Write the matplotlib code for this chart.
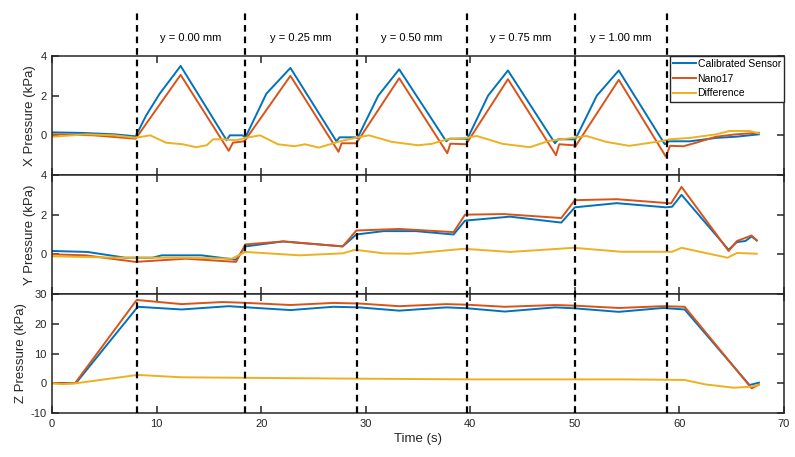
import matplotlib.pyplot as plt
import numpy as np

plt.rcParams['font.family'] = ['Liberation Sans', 'DejaVu Sans']
plt.rcParams['axes.unicode_minus'] = False

# time (s) / pressure (kPa) pairs
xcal_t = [0, 3, 6, 8.0, 9.0, 10.3, 12.3, 16.7, 17.0, 18.2, 18.5, 20.5, 22.8, 27.2, 27.5, 29.0,
          29.2, 31.2, 33.2, 37.7, 38.0, 39.5, 39.7, 41.7, 43.6, 48.1, 48.4, 49.9, 50.0, 52.1,
          54.2, 58.6, 59.0, 61.0, 63.5, 65.4, 67.6]
xcal_p = [0.15, 0.12, 0.05, -0.05, 1.0, 2.1, 3.5, -0.25, 0.0, 0.0, -0.1, 2.1, 3.4, -0.3, -0.1, -0.1,
          -0.15, 2.0, 3.33, -0.3, -0.17, -0.17, -0.2, 2.0, 3.27, -0.4, -0.2, -0.2, -0.25, 2.0,
          3.27, -0.45, -0.3, -0.3, -0.13, -0.07, 0.05]
xnano_t = [0, 4, 8.0, 12.3, 16.9, 17.3, 18.4, 22.8, 27.4, 27.7, 29.1, 33.2, 37.8, 38.1, 39.6,
           43.6, 48.2, 48.5, 49.9, 50.0, 54.2, 58.7, 59.1, 60.4, 61.6, 63.5, 65.4, 67.6]
xnano_p = [0.05, 0.0, -0.17, 3.05, -0.78, -0.37, -0.3, 3.0, -0.83, -0.4, -0.4, 2.88, -0.9, -0.42, -0.45,
           2.83, -1.0, -0.45, -0.5, -0.6, 2.8, -1.07, -0.53, -0.55, -0.37, -0.07, 0.05, 0.13]
xdiff_t = [0, 3.3, 6, 8.0, 9.4, 10.9, 12.5, 13.8, 14.8, 15.4, 16.4, 17.6, 18.5, 19.9, 21.6, 23.2,
           24.2, 25.5, 27.7, 29.0, 30.3, 32.5, 35.0, 36.3, 37.8, 39.7, 40.6, 43.1, 45.7, 47.5,
           49.8, 51.1, 53.0, 55.2, 56.5, 58.4, 59.1, 61.0, 63.5, 64.8, 66.7, 67.6]
xdiff_p = [-0.07, 0.05, 0.0, -0.12, 0.0, -0.37, -0.45, -0.6, -0.5, -0.2, -0.2, -0.25, -0.13, 0.0, -0.45, -0.55,
           -0.45, -0.62, -0.28, -0.13, 0.0, -0.33, -0.5, -0.43, -0.2, -0.13, -0.03, -0.43, -0.6, -0.28,
           -0.13, -0.03, -0.33, -0.53, -0.43, -0.28, -0.2, -0.13, 0.05, 0.22, 0.22, 0.1]

ycal_t = [0, 3.4, 7.0, 9.6, 10.5, 14.3, 17.6, 18.5, 22.1, 27.8, 29.1, 31.7, 34.8, 38.4, 39.5,
          43.8, 48.7, 50.0, 54.0, 58.7, 59.3, 60.2, 64.7, 65.5, 66.3, 66.9, 67.4]
ycal_p = [0.17, 0.12, -0.17, -0.17, -0.05, -0.05, -0.27, 0.4, 0.65, 0.4, 1.0, 1.17, 1.17, 1.0, 1.7,
          1.9, 1.6, 2.37, 2.58, 2.37, 2.4, 3.0, 0.23, 0.62, 0.67, 0.9, 0.7]
ynano_t = [0, 3.2, 8.0, 12.8, 17.6, 18.5, 22.1, 27.8, 29.1, 33.2, 38.4, 39.5, 43.2, 48.7, 50.0,
           54.0, 59.2, 60.2, 64.7, 65.5, 66.9, 67.4]
ynano_p = [0.0, -0.05, -0.38, -0.22, -0.38, 0.5, 0.65, 0.4, 1.2, 1.28, 1.12, 2.0, 2.03, 1.83, 2.73,
           2.78, 2.57, 3.4, 0.17, 0.67, 0.95, 0.7]
ydiff_t = [0, 6.4, 12.8, 17.2, 18.5, 23.7, 27.8, 29.0, 31.7, 34.2, 39.4, 43.8, 49.9, 54.4, 59.3,
           60.2, 64.6, 65.5, 67.4]
ydiff_p = [-0.1, -0.17, -0.17, -0.22, 0.12, -0.05, 0.05, 0.23, 0.05, 0.03, 0.28, 0.12, 0.33, 0.13, 0.13,
           0.33, -0.17, 0.07, 0.03]

zcal_t = [0, 2.3, 8.2, 12.4, 16.9, 18.7, 22.8, 26.9, 29.4, 33.2, 37.7, 39.7, 43.3, 48.1, 49.9,
          54.2, 58.4, 60.5, 66.7, 67.6]
zcal_p = [0.1, 0.1, 25.7, 24.8, 25.9, 25.5, 24.6, 25.7, 25.5, 24.4, 25.5, 25.2, 24.1, 25.5, 25.2,
          24.0, 25.3, 24.8, -0.6, 0.2]
znano_t = [0, 2.2, 8.1, 12.4, 16.3, 18.7, 22.8, 26.9, 29.4, 33.2, 37.7, 39.7, 43.3, 48.1, 49.9,
           54.2, 58.4, 60.5, 66.9, 67.6]
znano_p = [0.0, 0.0, 28.0, 26.6, 27.3, 27.0, 26.3, 27.0, 26.8, 25.9, 26.6, 26.4, 25.7, 26.3, 26.1,
           25.3, 25.9, 25.7, -1.7, -0.5]
zdiff_t = [0, 1.0, 2.3, 8.2, 12.4, 26.9, 40, 55, 60.5, 62.5, 65.2, 66.7, 67.6]
zdiff_p = [0.0, -0.3, 0.0, 2.8, 2.0, 1.6, 1.3, 1.3, 1.1, -0.4, -1.5, -1.2, -0.6]

dash_t = [8.1, 18.5, 29.15, 39.65, 50.0, 58.8]
dash_labels = ['y = 0.00 mm', 'y = 0.25 mm', 'y = 0.50 mm', 'y = 0.75 mm', 'y = 1.00 mm']

c_cal, c_nano, c_diff = '#0072BD', '#D95319', '#EDB120'

fig = plt.figure(figsize=(7.95, 4.57), dpi=100)


def pos(top_px, bot_px):
    return [52 / 795, 1 - bot_px / 457, 732 / 795, (bot_px - top_px) / 457]


ax1 = fig.add_axes(pos(56, 175))
ax2 = fig.add_axes(pos(175, 294))
ax3 = fig.add_axes(pos(294, 413))

panels = [
    (ax1, xcal_t, xcal_p, xnano_t, xnano_p, xdiff_t, xdiff_p, 'X Pressure (kPa)', (-2, 4), [0, 2, 4], -0.022),
    (ax2, ycal_t, ycal_p, ynano_t, ynano_p, ydiff_t, ydiff_p, 'Y Pressure (kPa)', (-2, 4), [0, 2, 4], -0.022),
    (ax3, zcal_t, zcal_p, znano_t, znano_p, zdiff_t, zdiff_p, 'Z Pressure (kPa)', (-10, 30), [-10, 0, 10, 20, 30], -0.034),
]

for ax, ct, cp, nt, npp, dt, dp, lab, lim, ticks, lx in panels:
    ax.plot(ct, cp, color=c_cal, lw=1.4, label='Calibrated Sensor')
    ax.plot(nt, npp, color=c_nano, lw=1.4, label='Nano17')
    ax.plot(dt, dp, color=c_diff, lw=1.4, label='Difference')
    ax.set_xlim(0, 70)
    ax.set_ylim(*lim)
    ax.set_yticks(ticks)
    ax.set_xticks(np.arange(0, 71, 10))
    ax.set_ylabel(lab, fontsize=9.5, color='#262626')
    ax.yaxis.set_label_coords(lx, 0.5)
    ax.tick_params(direction='in', length=5, width=1.1, top=True, right=True,
                   labelsize=8, colors='#262626', pad=4)
    for s in ax.spines.values():
        s.set_linewidth(1.1)
        s.set_color('#262626')

ax1.tick_params(labelbottom=False)
ax2.tick_params(labelbottom=False)
ax3.set_xlabel('Time (s)', fontsize=9.5, color='#262626', labelpad=3)

leg = ax1.legend(loc='upper right', borderaxespad=0, fontsize=7.5, fancybox=False,
                 edgecolor='#262626', framealpha=1, handlelength=2.2, handletextpad=0.2,
                 borderpad=0.3, labelspacing=0.45)
leg.get_frame().set_linewidth(1.0)

# overlay for the dashed separators that run across all panels
axo = fig.add_axes(pos(12, 413))
axo.set_xlim(0, 70)
axo.set_ylim(0, 1)
axo.axis('off')
for d in dash_t:
    axo.axvline(d, color='k', lw=1.6, ls=(0, (3, 2.2)))
for i, lab in enumerate(dash_labels):
    axo.text((dash_t[i] + dash_t[i + 1]) / 2, (413 - 38) / 401, lab,
             ha='center', va='center', fontsize=8, color='k')

fig.savefig('out.png', dpi=100)
